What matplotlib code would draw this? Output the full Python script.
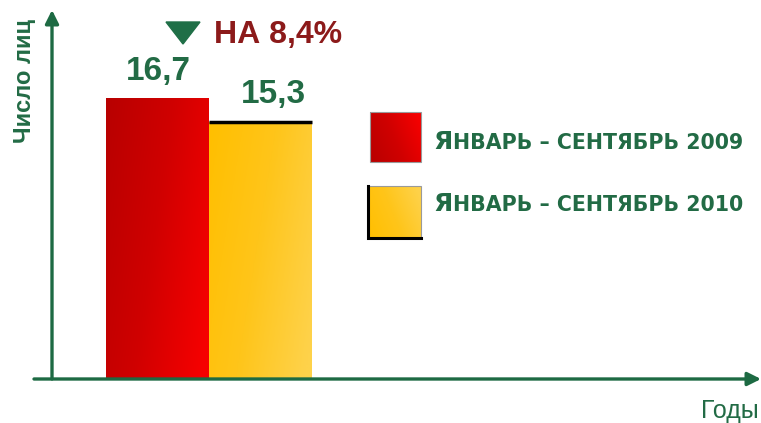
import matplotlib
matplotlib.use("Agg")
import matplotlib.pyplot as plt
import numpy as np
from matplotlib.colors import LinearSegmentedColormap
from matplotlib.patches import Polygon, Rectangle

plt.rcParams["font.family"] = ["Liberation Sans", "DejaVu Sans"]

# data
periods = ["Январь – сентябрь 2009", "Январь – сентябрь 2010"]
values = [16.7, 15.3]
value_labels = ["16,7", "15,3"]
change_label = "НА 8,4%"
y_label = "Число лиц"
x_label = "Годы"

GREEN = "#226b45"
AXIS_GREEN = "#1d6a43"
DARK_RED = "#8c1a1a"
red_cmap = LinearSegmentedColormap.from_list("r", ["#b80000", "#d00000", "#f60000"])
yel_cmap = LinearSegmentedColormap.from_list("y", ["#ffbf00", "#ffc51a", "#fed24a"])
cmaps = [red_cmap, yel_cmap]

W, H = 761, 423
fig = plt.figure(figsize=(W / 100, H / 100), dpi=100)

# overlay axes in pixel coordinates (top-left origin) for decorations
deco = fig.add_axes([0, 0, 1, 1])
deco.set_xlim(0, W)
deco.set_ylim(H, 0)
deco.axis("off")

ax = fig.add_axes([52 / W, 44 / H, 709 / W, 369 / H])
ax.patch.set_alpha(0)
for s in ax.spines.values():
    s.set_visible(False)
ax.set_xticks([])
ax.set_yticks([])

x = np.arange(len(values))
bars = ax.bar(x, values, width=1.0, color="none", edgecolor="none")


def gradient(cmap):
    gx = np.linspace(0, 1, 64)
    gy = np.linspace(0, 1, 64)
    gxx, gyy = np.meshgrid(gx, gy)
    # brighter towards the bottom right
    return cmap(np.clip(0.75 * gxx + 0.3 * (1 - gyy), 0, 1))


for bar, cmap in zip(bars, cmaps):
    x0, y0 = bar.get_x(), bar.get_y()
    x1, y1 = x0 + bar.get_width(), y0 + bar.get_height()
    im = ax.imshow(gradient(cmap), extent=[x0, x1, y1, y0], origin="upper",
                   aspect="auto", zorder=2)
    im.set_clip_path(bar)

# black top edge on the second bar
b = bars[1]
ax.plot([b.get_x(), b.get_x() + b.get_width()], [values[1], values[1]],
        color="black", lw=2.5, zorder=3, solid_capstyle="butt")

ax.set_xlim(-1.024, -1.024 + 709 / 103)
ax.set_ylim(0, 369 / (281 / values[0]))

# value labels
offsets = [(1, 8), (9, 8)]
for xi, v, lab, off in zip(x, values, value_labels, offsets):
    ax.annotate(lab, (xi, v), xytext=off, textcoords="offset points",
                ha="center", va="bottom", fontsize=24, fontweight="bold",
                color=GREEN)

# axes with arrows
arrow = dict(arrowstyle="-|>", color=AXIS_GREEN, lw=2.4, mutation_scale=20,
             shrinkA=0, shrinkB=0)
ax.annotate("", xy=(1.0, 0), xytext=(-18 / 709, 0), xycoords="axes fraction",
            textcoords="axes fraction", arrowprops=arrow, annotation_clip=False)
ax.annotate("", xy=(0, 1.0), xytext=(0, 0), xycoords="axes fraction",
            textcoords="axes fraction", arrowprops=arrow, annotation_clip=False)

deco.text(24, 81, y_label, rotation=90, ha="center", va="center",
          fontsize=17, fontweight="bold", color=GREEN)
deco.text(759, 418, x_label, ha="right", va="baseline", fontsize=18,
          color=GREEN)

# change marker
deco.add_patch(Polygon([(166, 22), (200, 22), (183, 44)], closed=True,
                       color="#1f6f47"))
deco.text(214, 43, change_label, ha="left", va="baseline", fontsize=23,
          fontweight="bold", color=DARK_RED)

# legend
sq = [(370, 112, 51, 50), (368, 186, 53, 52)]
baselines = [149, 211]
for (sx, sy, sw, sh), cmap, name, bl, i in zip(sq, cmaps, periods, baselines,
                                                range(2)):
    deco.imshow(gradient(cmap), extent=[sx, sx + sw, sy + sh, sy],
                origin="upper", aspect="auto", zorder=2)
    deco.add_patch(Rectangle((sx, sy), sw, sh, fill=False,
                             edgecolor="#9a9a9a", lw=0.8, zorder=3))
    if i == 1:
        deco.plot([sx, sx, sx + sw], [sy, sy + sh, sy + sh], color="black",
                  lw=2.2, zorder=4, solid_joinstyle="miter")
    t1 = deco.text(433, bl, name[0].upper(), ha="left", va="baseline",
                   fontsize=18, fontweight="bold", color=GREEN,
                   family="DejaVu Sans")
    fig.canvas.draw()
    bb = t1.get_window_extent(fig.canvas.get_renderer())
    xr = deco.transData.inverted().transform((bb.x1, 0))[0]
    deco.text(xr + 1, bl, name[1:].upper(), ha="left", va="baseline",
              fontsize=14.8, fontweight="bold", color=GREEN,
              family="DejaVu Sans")

deco.set_xlim(0, W)
deco.set_ylim(H, 0)

fig.savefig("out.png", dpi=100)
